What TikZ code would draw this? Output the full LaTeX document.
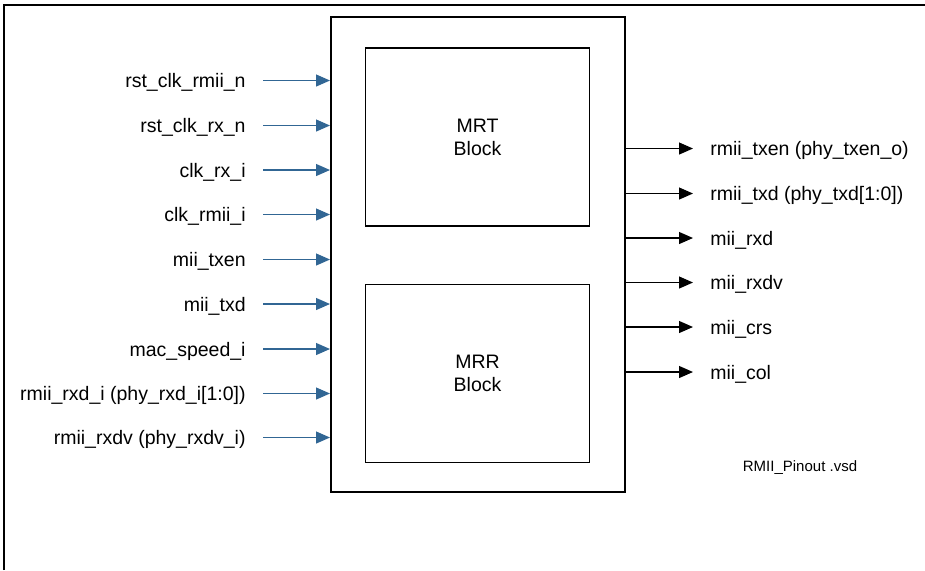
\documentclass[tikz,border=0pt]{standalone}
\usepackage{fontspec}
\setmainfont{Liberation Sans}
\usetikzlibrary{arrows.meta,positioning}
\definecolor{pinblue}{RGB}{49,102,148}

\begin{document}
\begin{tikzpicture}[
    x=0.5pt, y=-0.5pt, % one unit = one pixel of the sheet
    node distance=28.5pt,
    chip/.style={
        draw,
        line width=1pt,
        minimum width=147pt,
        minimum height=237.5pt,
        inner sep=0pt
    },
    block/.style={
        draw,
        line width=0.8pt,
        minimum width=112pt,
        minimum height=89pt,
        align=center,
        font=\fontsize{9.75}{11.5}\selectfont
    },
    inpin/.style={
        anchor=east,
        inner sep=0pt,
        text height=7.1pt,
        text depth=0pt,
        font=\fontsize{9.75}{11.5}\selectfont
    },
    outpin/.style={
        inpin,
        anchor=west
    },
    inwire/.style={
        draw,
        -{Triangle[length=7pt,width=6pt]},
        line width=0.6pt,
        color=pinblue
    },
    outwire/.style={
        draw,
        -{Triangle[length=7pt,width=6pt]},
        line width=0.6pt,
        color=black
    }
]
    \useasboundingbox (0,0) rectangle (925,570);

    % sheet frame (only top and left edges show)
    \draw [line width=0.6pt] (4,570) -- (4,5) -- (925,5);

    % --- Nodes ---

    % Core with its two blocks
    \node [chip] (chip) at (478,254.5) {};
    \node [block] (mrt) at (477.5,137) {MRT\\Block};
    \node [block, below=of mrt] (mrr) {MRR\\Block};

    % Inputs (left side)
    \node [inpin] (in0) at (246,80.5) {rst\_clk\_rmii\_n};
    \node [inpin] (in1) at (246,125.5) {rst\_clk\_rx\_n};
    \node [inpin] (in2) at (246,170) {clk\_rx\_i};
    \node [inpin] (in3) at (246,214.5) {clk\_rmii\_i};
    \node [inpin] (in4) at (246,259.5) {mii\_txen};
    \node [inpin] (in5) at (246,304) {mii\_txd};
    \node [inpin] (in6) at (246,349) {mac\_speed\_i};
    \node [inpin] (in7) at (246,393.5) {rmii\_rxd\_i (phy\_rxd\_i[1:0])};
    \node [inpin] (in8) at (246,437.5) {rmii\_rxdv (phy\_rxdv\_i)};

    % Outputs (right side)
    \node [outpin] (out0) at (710,148.5) {rmii\_txen (phy\_txen\_o)};
    \node [outpin] (out1) at (710,193.5) {rmii\_txd (phy\_txd[1:0])};
    \node [outpin] (out2) at (710,238) {mii\_rxd};
    \node [outpin] (out3) at (710,282.5) {mii\_rxdv};
    \node [outpin] (out4) at (710,327) {mii\_crs};
    \node [outpin] (out5) at (710,372) {mii\_col};

    % drawing file name
    \node [font=\fontsize{7.5}{9}\selectfont] (vsd) at (800,468) {RMII\_Pinout .vsd};

    % --- Connections ---

    % inputs into the core
    \path [inwire] ([xshift=8.5pt]in0.east) -- (in0 -| chip.west);
    \path [inwire] ([xshift=8.5pt]in1.east) -- (in1 -| chip.west);
    \path [inwire] ([xshift=8.5pt]in2.east) -- (in2 -| chip.west);
    \path [inwire] ([xshift=8.5pt]in3.east) -- (in3 -| chip.west);
    \path [inwire] ([xshift=8.5pt]in4.east) -- (in4 -| chip.west);
    \path [inwire] ([xshift=8.5pt]in5.east) -- (in5 -| chip.west);
    \path [inwire] ([xshift=8.5pt]in6.east) -- (in6 -| chip.west);
    \path [inwire] ([xshift=8.5pt]in7.east) -- (in7 -| chip.west);
    \path [inwire] ([xshift=8.5pt]in8.east) -- (in8 -| chip.west);

    % outputs from the core
    \path [outwire] (chip.east |- out0) -- ([xshift=-8.5pt]out0.west);
    \path [outwire] (chip.east |- out1) -- ([xshift=-8.5pt]out1.west);
    \path [outwire] (chip.east |- out2) -- ([xshift=-8.5pt]out2.west);
    \path [outwire] (chip.east |- out3) -- ([xshift=-8.5pt]out3.west);
    \path [outwire] (chip.east |- out4) -- ([xshift=-8.5pt]out4.west);
    \path [outwire] (chip.east |- out5) -- ([xshift=-8.5pt]out5.west);

\end{tikzpicture}
\end{document}
